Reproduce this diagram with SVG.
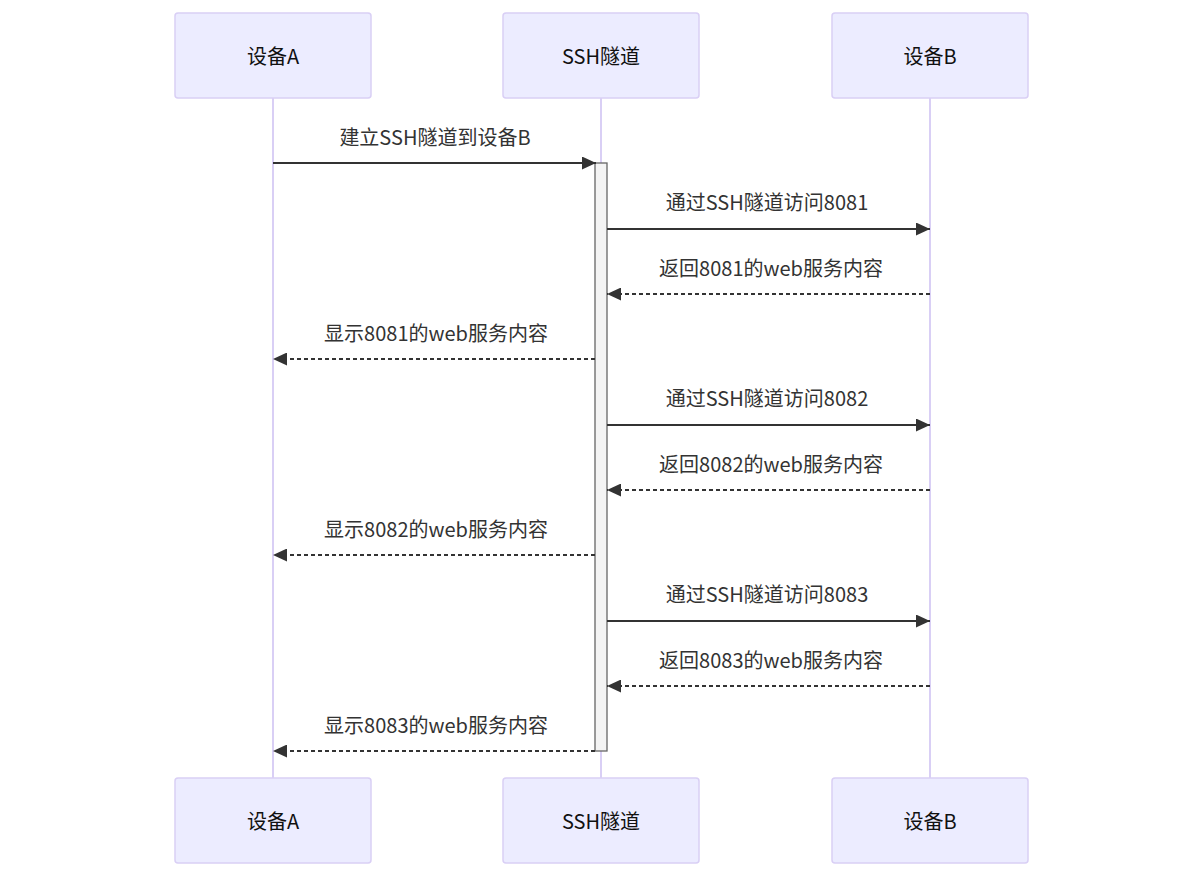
<svg xmlns="http://www.w3.org/2000/svg" width="1203" height="877" viewBox="0 0 1203 877">
<style>
.bg{fill:#ffffff}
.actor{fill:#ECECFF;stroke:#d9cff5;stroke-width:1.5}
.life{stroke:#d9cff5;stroke-width:2}
.atext{font-family:"Noto Sans CJK SC","Liberation Sans",sans-serif;font-size:20px;fill:#111;text-anchor:middle;dominant-baseline:central}
.mtext{font-family:"Noto Sans CJK SC","Liberation Sans",sans-serif;font-size:20px;fill:#333;text-anchor:middle;dominant-baseline:central}
.msg{stroke:#333;stroke-width:2;fill:none}
.dash{stroke-dasharray:4,3}
.act{fill:#f4f4f4;stroke:#666;stroke-width:1.3}
</style>
<defs>
<marker id="arrow" markerUnits="userSpaceOnUse" markerWidth="15" markerHeight="13" refX="14" refY="6.5" orient="auto">
<path d="M0,0 L14,6.5 L0,13 z" fill="#333"/>
</marker>
</defs>
<rect class="bg" x="0" y="0" width="1203" height="877"/>
<g id="lifelines">
<line class="life" x1="273" y1="98" x2="273" y2="778"/>
<line class="life" x1="601" y1="98" x2="601" y2="778"/>
<line class="life" x1="930" y1="98" x2="930" y2="778"/>
</g>
<g id="actor-A-top"><rect class="actor" x="175" y="13" width="196" height="85" rx="3"/><text class="atext" x="273" y="55">设备A</text></g>
<g id="actor-SSH-top"><rect class="actor" x="503" y="13" width="196" height="85" rx="3"/><text class="atext" x="601" y="55">SSH隧道</text></g>
<g id="actor-B-top"><rect class="actor" x="832" y="13" width="196" height="85" rx="3"/><text class="atext" x="930" y="55">设备B</text></g>
<g id="actor-A-bottom"><rect class="actor" x="175" y="778" width="196" height="85" rx="3"/><text class="atext" x="273" y="820">设备A</text></g>
<g id="actor-SSH-bottom"><rect class="actor" x="503" y="778" width="196" height="85" rx="3"/><text class="atext" x="601" y="820">SSH隧道</text></g>
<g id="actor-B-bottom"><rect class="actor" x="832" y="778" width="196" height="85" rx="3"/><text class="atext" x="930" y="820">设备B</text></g>
<g id="activation"><rect class="act" x="595" y="163" width="12" height="588"/></g>
<g id="connectors">
<line class="msg" x1="273" y1="163" x2="596" y2="163" marker-end="url(#arrow)"/>
<line class="msg" x1="607" y1="229" x2="930" y2="229" marker-end="url(#arrow)"/>
<line class="msg dash" x1="930" y1="294" x2="607" y2="294" marker-end="url(#arrow)"/>
<line class="msg dash" x1="595" y1="359" x2="273" y2="359" marker-end="url(#arrow)"/>
<line class="msg" x1="607" y1="425" x2="930" y2="425" marker-end="url(#arrow)"/>
<line class="msg dash" x1="930" y1="490" x2="607" y2="490" marker-end="url(#arrow)"/>
<line class="msg dash" x1="595" y1="555" x2="273" y2="555" marker-end="url(#arrow)"/>
<line class="msg" x1="607" y1="621" x2="930" y2="621" marker-end="url(#arrow)"/>
<line class="msg dash" x1="930" y1="686" x2="607" y2="686" marker-end="url(#arrow)"/>
<line class="msg dash" x1="595" y1="751" x2="273" y2="751" marker-end="url(#arrow)"/>
</g>
<g id="labels">
<text class="mtext" x="435" y="136">建立SSH隧道到设备B</text>
<text class="mtext" x="767" y="201">通过SSH隧道访问8081</text>
<text class="mtext" x="771" y="267">返回8081的web服务内容</text>
<text class="mtext" x="436" y="332">显示8081的web服务内容</text>
<text class="mtext" x="767" y="397">通过SSH隧道访问8082</text>
<text class="mtext" x="771" y="463">返回8082的web服务内容</text>
<text class="mtext" x="436" y="528">显示8082的web服务内容</text>
<text class="mtext" x="767" y="593">通过SSH隧道访问8083</text>
<text class="mtext" x="771" y="659">返回8083的web服务内容</text>
<text class="mtext" x="436" y="724">显示8083的web服务内容</text>
</g>
</svg>
